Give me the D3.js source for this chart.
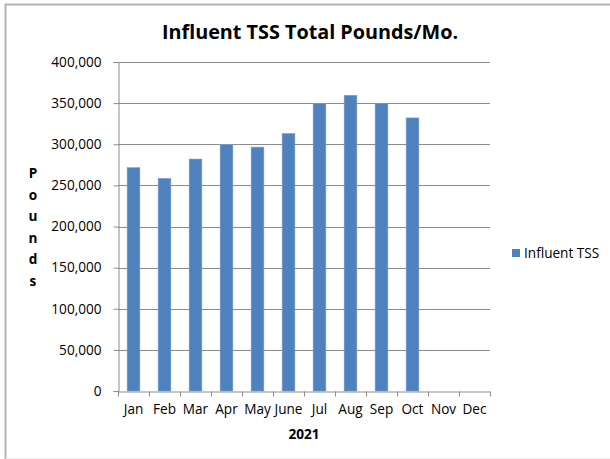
<!DOCTYPE html>
<html>
<head>
<meta charset="utf-8">
<script src="https://cdn.jsdelivr.net/npm/d3@7"></script>
<style>
  body { margin: 0; background: #fff; }
  svg { font-family: 'Open Sans', 'Liberation Sans', sans-serif; }
</style>
</head>
<body>
<div id="container"></div>
<script>
const months = ['Jan', 'Feb', 'Mar', 'Apr', 'May', 'June', 'Jul', 'Aug', 'Sep', 'Oct', 'Nov', 'Dec'];
const tssValues = [271500, 258500, 282000, 299500, 296500, 313000, 349500, 359500, 349500, 332000, null, null];
const yTicks = [0, 50000, 100000, 150000, 200000, 250000, 300000, 350000, 400000];
const seriesName = 'Influent TSS';
const titleText = 'Influent TSS Total Pounds/Mo.';
const xTitle = '2021';
const yTitle = 'Pounds';

const width = 610, height = 459;
const plot = { left: 118, right: 490, top: 62, bottom: 391 };

const svg = d3.select('#container').append('svg')
  .attr('width', width)
  .attr('height', height);

// chart frame
svg.append('line').attr('x1', 5.5).attr('x2', 5.5).attr('y1', 4).attr('y2', 459)
  .attr('stroke', '#b3b3b3').attr('stroke-width', 2);
svg.append('line').attr('x1', 5).attr('x2', 610).attr('y1', 4.5).attr('y2', 4.5)
  .attr('stroke', '#b3b3b3').attr('stroke-width', 2);
svg.append('line').attr('x1', 6).attr('x2', 610).attr('y1', 458.5).attr('y2', 458.5)
  .attr('stroke', '#eeeeee').attr('stroke-width', 1);

const x = d3.scaleBand()
  .domain(months)
  .range([plot.left, plot.right])
  .paddingInner(0.59)
  .paddingOuter(0.295);

const y = d3.scaleLinear()
  .domain([0, 400000])
  .range([plot.bottom, plot.top]);

// gridlines
svg.append('g')
  .selectAll('line')
  .data(yTicks.filter(d => d > 0))
  .enter().append('line')
  .attr('x1', plot.left)
  .attr('x2', plot.right)
  .attr('y1', d => Math.round(y(d)) + 0.5)
  .attr('y2', d => Math.round(y(d)) + 0.5)
  .attr('stroke', '#8c8c8c')
  .attr('stroke-width', 1);

// bars
svg.append('g')
  .selectAll('rect')
  .data(months.map((m, i) => ({ month: m, value: tssValues[i] })).filter(d => d.value != null))
  .enter().append('rect')
  .attr('x', d => x(d.month))
  .attr('y', d => y(d.value))
  .attr('width', x.bandwidth())
  .attr('height', d => y(0) - y(d.value))
  .attr('fill', '#4f81bd')
  .attr('stroke', '#7a9fd0')
  .attr('stroke-width', 0.6);

// y axis
const yAxis = svg.append('g')
  .attr('transform', `translate(${plot.left + 0.5},0)`)
  .call(d3.axisLeft(y).tickValues(yTicks).tickSize(5).tickPadding(12).tickFormat(d3.format(',')));
yAxis.select('.domain').attr('stroke', '#8c8c8c');
yAxis.selectAll('.tick line').attr('stroke', '#8c8c8c');
yAxis.selectAll('.tick text').attr('font-size', 13.6).attr('fill', '#000');
yAxis.attr('font-family', null);

// x axis
const xAxis = svg.append('g')
  .attr('transform', `translate(0,${plot.bottom + 0.5})`)
  .call(d3.axisBottom(x).tickSize(0).tickPadding(13));
xAxis.select('.domain').attr('stroke', '#8c8c8c');
xAxis.selectAll('.tick text').attr('font-size', 13.6).attr('fill', '#000');
xAxis.attr('font-family', null);
xAxis.selectAll('.boundary')
  .data(d3.range(months.length + 1))
  .enter().append('line')
  .attr('class', 'boundary')
  .attr('x1', i => Math.round(plot.left + i * x.step()) + 0.5)
  .attr('x2', i => Math.round(plot.left + i * x.step()) + 0.5)
  .attr('y1', 0)
  .attr('y2', 5)
  .attr('stroke', '#8c8c8c');

// titles
svg.append('text')
  .attr('x', 310)
  .attr('y', 39)
  .attr('text-anchor', 'middle')
  .attr('font-size', 19.8)
  .attr('font-weight', 'bold')
  .text(titleText);

svg.append('text')
  .attr('x', (plot.left + plot.right) / 2)
  .attr('y', 439)
  .attr('text-anchor', 'middle')
  .attr('font-size', 13.6)
  .attr('font-weight', 'bold')
  .text(xTitle);

svg.append('g')
  .selectAll('text')
  .data(yTitle.split(''))
  .enter().append('text')
  .attr('x', 33)
  .attr('y', (d, i) => 178 + i * 21.6)
  .attr('text-anchor', 'middle')
  .attr('font-size', 13.6)
  .attr('font-weight', 'bold')
  .text(d => d);

// legend
const legend = svg.append('g').attr('transform', 'translate(512,249)');
legend.append('rect').attr('width', 8).attr('height', 8).attr('fill', '#4f81bd');
legend.append('text').attr('x', 12).attr('y', 9).attr('font-size', 13.6).text(seriesName);
</script>
</body>
</html>
